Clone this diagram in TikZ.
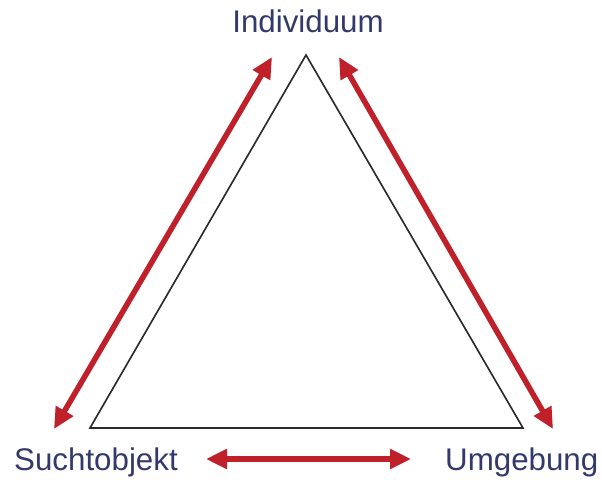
\documentclass[tikz,border=0pt]{standalone}
\usepackage{fontspec}
\setmainfont{Liberation Sans}
\usetikzlibrary{arrows.meta}
\definecolor{lbl}{HTML}{33396A}
\definecolor{arr}{HTML}{C0202A}
\definecolor{tri}{HTML}{2A2A2A}
\tikzset{
  lab/.style={inner sep=0pt, text=lbl, font=\fontsize{31.3}{36}\selectfont},
  rel/.style={draw=arr, line width=5.5pt, {Triangle[length=21pt,width=19pt]}-{Triangle[length=21pt,width=19pt]}},
  relshadow/.style={draw=black!12, line width=5.5pt, {Triangle[length=21pt,width=19pt]}-{Triangle[length=21pt,width=19pt]}},
  edge/.style={draw=tri, line width=1.6pt, line join=miter}
}
\begin{document}
\begin{tikzpicture}[x=1pt,y=-1pt]
\useasboundingbox (0,0) rectangle (602,479);
\coordinate (A) at (306,55);
\coordinate (B) at (90,428);
\coordinate (C) at (523,428);
\draw[draw=black!10, line width=1.6pt, shift={(1.5,2.5)}] (A) -- (B) -- (C) -- cycle;
\draw[edge] (A) -- (B) -- (C) -- cycle;
\node[lab, anchor=base] (ind) at (308,32) {Individuum};
\node[lab, anchor=base west] (such) at (14,470) {Suchtobjekt};
\node[lab, anchor=base west] (umg) at (445,470) {Umgebung};
\coordinate (l1) at (272,57);
\coordinate (l2) at (54,429);
\coordinate (r1) at (339,57);
\coordinate (r2) at (553,429);
\coordinate (b1) at (206,459);
\coordinate (b2) at (411,459);
\begin{scope}[shift={(1.5,3)}]
\draw[relshadow] (l1) -- (l2);
\draw[relshadow] (r1) -- (r2);
\draw[relshadow] (b1) -- (b2);
\end{scope}
\draw[rel] (l1) -- (l2);
\draw[rel] (r1) -- (r2);
\draw[rel] (b1) -- (b2);
\end{tikzpicture}
\end{document}
